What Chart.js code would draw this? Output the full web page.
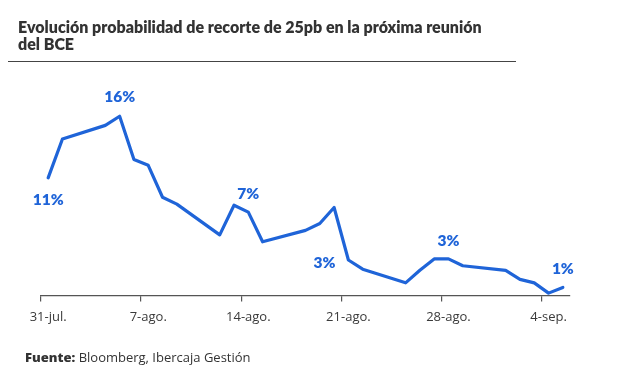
<!DOCTYPE html>
<html>
<head>
<meta charset="utf-8">
<script src="https://cdn.jsdelivr.net/npm/chart.js@4/dist/chart.umd.min.js"></script>
<style>
  html, body { margin: 0; padding: 0; background: #ffffff; }
  #wrap { position: relative; width: 634px; height: 374px; overflow: hidden; }
  #c { position: absolute; left: 0; top: 0; }
  #title { position: absolute; left: 18px; top: 18px; font-family: Lato, "Open Sans", sans-serif; font-weight: 800; font-size: 16px; line-height: 17px; color: #333333; white-space: nowrap; }
  #rule { position: absolute; left: 8px; top: 61px; width: 508px; height: 0; border-top: 1.5px solid #444444; }
  #source { position: absolute; left: 25px; top: 348px; font-family: "Open Sans", sans-serif; font-size: 13px; color: #333333; white-space: nowrap; }
  #source b { font-weight: 800; }
</style>
</head>
<body>
<div id="wrap">
  <canvas id="c" width="634" height="374"></canvas>
  <div id="title">Evolución probabilidad de recorte de 25pb en la próxima reunión<br>del BCE</div>
  <div id="rule"></div>
  <div id="source"><b>Fuente:</b> Bloomberg, Ibercaja Gestión</div>
</div>
<script>
// Calendar days from 31-jul to 5-sep
const dayLabels = [
  '31-jul.', '1-ago.', '2-ago.', '3-ago.', '4-ago.', '5-ago.', '6-ago.', '7-ago.', '8-ago.', '9-ago.',
  '10-ago.', '11-ago.', '12-ago.', '13-ago.', '14-ago.', '15-ago.', '16-ago.', '17-ago.', '18-ago.', '19-ago.',
  '20-ago.', '21-ago.', '22-ago.', '23-ago.', '24-ago.', '25-ago.', '26-ago.', '27-ago.', '28-ago.', '29-ago.',
  '30-ago.', '31-ago.', '1-sep.', '2-sep.', '3-sep.', '4-sep.', '5-sep.'
];
// Tick labels shown on the axis
const tickLabels = ['31-jul.', '7-ago.', '14-ago.', '21-ago.', '28-ago.', '4-sep.'];
// Probability (%) of a 25bp cut (null = no point)
const probValues = [
  10.3, 13.7, null, null, 14.9, 15.7, 11.9, 11.4, 8.6, 8.0,
  null, null, 5.3, 7.9, 7.3, 4.7, null, null, 5.7, 6.3,
  7.7, 3.1, 2.3, null, null, 1.1, 2.2, 3.2, 3.2, 2.6,
  null, null, 2.2, 1.4, 1.1, 0.2, 0.7
];
// Annotated points: date and text
const noteDates = ['31-jul.', '5-ago.', '14-ago.', '21-ago.', '28-ago.', '5-sep.'];
const noteTexts = ['11%', '16%', '7%', '3%', '3%', '1%'];

const BLUE = '#1f64d8';
const noteOffsets = [[0, 22], [0, -19], [0, -18], [-24, 3], [0, -18], [0, -18]];

const notePlugin = {
  id: 'notes',
  afterDatasetsDraw(chart) {
    const ctx = chart.ctx;
    const meta = chart.getDatasetMeta(0);
    ctx.save();
    ctx.font = '800 15.5px Lato, "Open Sans", sans-serif';
    ctx.fillStyle = BLUE;
    ctx.textAlign = 'center';
    ctx.textBaseline = 'middle';
    noteDates.forEach((d, i) => {
      const idx = dayLabels.indexOf(d);
      const el = meta.data[idx];
      if (!el) return;
      ctx.fillText(noteTexts[i], el.x + noteOffsets[i][0], el.y + noteOffsets[i][1]);
    });
    ctx.restore();
  }
};

new Chart(document.getElementById('c'), {
  type: 'line',
  data: {
    labels: dayLabels,
    datasets: [{
      data: probValues,
      borderColor: BLUE,
      borderWidth: 3.2,
      pointRadius: 0,
      spanGaps: true,
      tension: 0,
      borderJoinStyle: 'round',
      borderCapStyle: 'round'
    }]
  },
  options: {
    responsive: false,
    animation: false,
    devicePixelRatio: 1,
    layout: { padding: { left: 41, right: 64, top: 90, bottom: 41 } },
    plugins: { legend: { display: false }, tooltip: { enabled: false }, title: { display: false } },
    scales: {
      y: { display: false, min: 0, max: 18 },
      x: {
        offset: true,
        border: { display: true, color: '#555555', width: 1.2 },
        grid: {
          offset: true,
          drawOnChartArea: false,
          drawTicks: true,
          tickLength: 6,
          color: (c) => (c.index % 7 === 0 && c.index < dayLabels.length) ? '#555555' : 'rgba(0,0,0,0)',
          lineWidth: 1.2
        },
        ticks: {
          autoSkip: false,
          maxRotation: 0,
          padding: 8,
          color: '#3a3a3a',
          font: { family: '"Open Sans", sans-serif', size: 13 },
          callback: function (v, i) {
            const l = dayLabels[i];
            return tickLabels.includes(l) ? l : '';
          }
        }
      }
    }
  },
  plugins: [notePlugin]
});
</script>
</body>
</html>
